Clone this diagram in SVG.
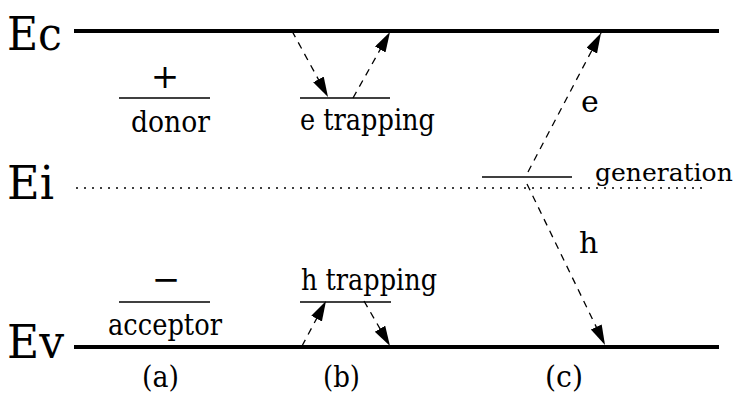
<svg xmlns="http://www.w3.org/2000/svg" width="738" height="393" viewBox="0 0 738 393">
<defs>
<style>
.t{font-family:"DejaVu Serif","Liberation Serif",serif;fill:#000;font-size:30px}
.big{font-size:47px}
.band{stroke:#000;stroke-width:4;fill:none}
.lvl{stroke:#000;stroke-width:1.5;fill:none}
.dot{stroke:#000;stroke-width:1.5;stroke-dasharray:2 6;fill:none}
.arr{stroke:#000;stroke-width:1.3;stroke-dasharray:7 6;fill:none}
</style>
<marker id="ah" markerUnits="userSpaceOnUse" markerWidth="24" markerHeight="14" refX="20" refY="6" orient="auto">
<path d="M0,0 L20,6 L0,12 z" fill="#000"/>
</marker>
</defs>
<rect width="738" height="393" fill="#fff"/>
<g id="bands">
<g id="Ec"><line class="band" x1="74" y1="31" x2="719" y2="31"/><text class="t big" x="7" y="50" textLength="55" lengthAdjust="spacingAndGlyphs">Ec</text></g>
<g id="Ei"><line class="dot" x1="76" y1="188" x2="706" y2="188"/><text class="t big" x="7" y="199" textLength="47" lengthAdjust="spacingAndGlyphs">Ei</text></g>
<g id="Ev"><line class="band" x1="74" y1="347" x2="719" y2="347"/><text class="t big" x="7" y="358" textLength="57" lengthAdjust="spacingAndGlyphs">Ev</text></g>
</g>
<g id="donor"><text class="t" x="165" y="88" text-anchor="middle" style="font-size:34px">+</text><line class="lvl" x1="119" y1="98" x2="210" y2="98"/><text class="t" x="131" y="132" textLength="79" lengthAdjust="spacingAndGlyphs">donor</text></g>
<g id="acceptor"><text class="t" x="166" y="291" text-anchor="middle" style="font-size:34px">−</text><line class="lvl" x1="119" y1="302" x2="210" y2="302"/><text class="t" x="108" y="335" textLength="114" lengthAdjust="spacingAndGlyphs">acceptor</text></g>
<g id="etrap"><line class="lvl" x1="300" y1="98" x2="390" y2="98"/><text class="t" x="300" y="130" textLength="135" lengthAdjust="spacingAndGlyphs">e trapping</text></g>
<g id="htrap"><text class="t" x="301" y="290" textLength="136" lengthAdjust="spacingAndGlyphs">h trapping</text><line class="lvl" x1="300" y1="302" x2="391" y2="302"/></g>
<g id="gen"><line class="lvl" x1="482" y1="177" x2="572" y2="177"/><text class="t" x="595" y="181" style="font-size:25px">generation</text></g>
<g id="labels">
<text class="t" x="581" y="112">e</text>
<text class="t" x="579" y="253">h</text>
<text class="t" x="142" y="387" textLength="37" lengthAdjust="spacingAndGlyphs">(a)</text>
<text class="t" x="323" y="387" textLength="37" lengthAdjust="spacingAndGlyphs">(b)</text>
<text class="t" x="545" y="387" textLength="38" lengthAdjust="spacingAndGlyphs">(c)</text>
</g>
<g id="connectors">
<line class="arr" marker-end="url(#ah)" x1="292" y1="31" x2="328" y2="97"/>
<line class="arr" marker-end="url(#ah)" x1="353" y1="98" x2="390" y2="32"/>
<line class="arr" marker-end="url(#ah)" x1="302" y1="346" x2="326" y2="301"/>
<line class="arr" marker-end="url(#ah)" x1="364" y1="301" x2="390" y2="346"/>
<line class="arr" marker-end="url(#ah)" x1="528" y1="172" x2="601" y2="33"/>
<line class="arr" marker-end="url(#ah)" x1="527" y1="184" x2="605" y2="345"/>
</g>
</svg>
